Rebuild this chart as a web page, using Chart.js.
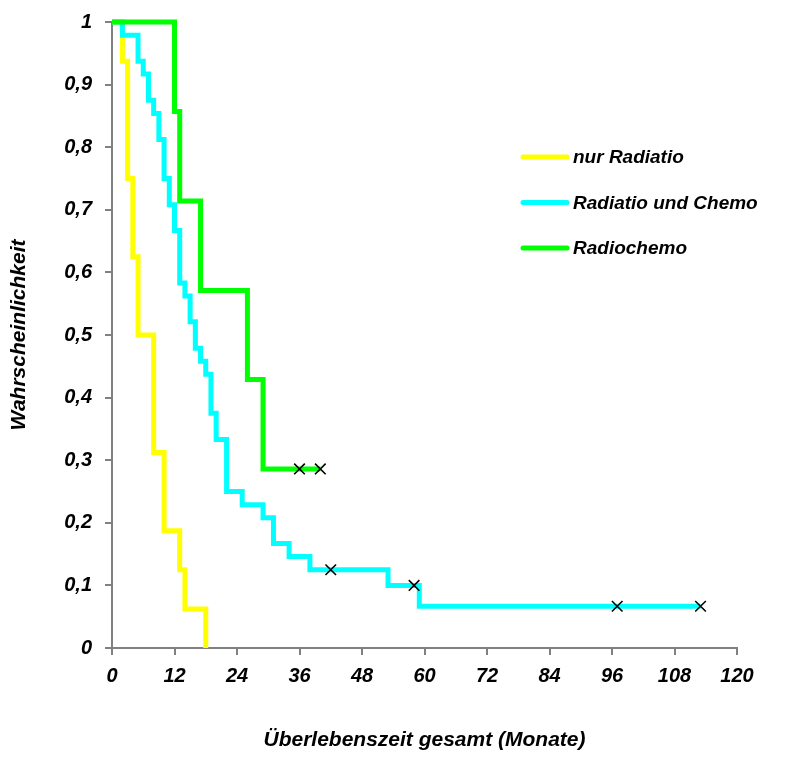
<!DOCTYPE html>
<html>
<head>
<meta charset="utf-8">
<script src="https://cdn.jsdelivr.net/npm/chart.js@4"></script>
<style>
html, body { margin:0; padding:0; background:#fff; }
#wrap { width:785px; height:758px; }
</style>
</head>
<body>
<div id="wrap"><canvas id="km" width="785" height="758"></canvas></div>
<script>
// ======================================================
// Data (Kaplan-Meier steps)
// ======================================================

const seriesNames = ["nur Radiatio", "Radiatio und Chemo", "Radiochemo"];
const seriesColors = ["#FFFF00", "#00FFFF", "#00FF00"];

const radTimes = [0, 2, 3, 4, 5, 8, 10, 13, 14, 18];
const radSurv = [1, 0.9375, 0.75, 0.625, 0.5, 0.3125, 0.1875, 0.125, 0.0625, 0];

const rcTimes = [0, 2, 5, 6, 7, 8, 9, 10, 11, 12, 13, 14, 15, 16, 17, 18, 19, 20, 22, 25, 29, 31, 34, 38, 53, 59, 113];
const rcSurv = [1, 0.979, 0.9375, 0.917, 0.875, 0.854, 0.8125, 0.75, 0.708, 0.667, 0.583, 0.5625, 0.521, 0.479, 0.458, 0.4375, 0.375, 0.333, 0.25, 0.229, 0.208, 0.167, 0.146, 0.125, 0.1, 0.0667, 0.0667];

const chemoTimes = [0, 12, 13, 17, 26, 29, 40];
const chemoSurv = [1, 0.857, 0.714, 0.571, 0.429, 0.286, 0.286];

// censored observations (x marks)
const censorTimes = [36, 40, 42, 58, 97, 113];
const censorSurv = [0.286, 0.286, 0.125, 0.1, 0.0667, 0.0667];

const xTicks = [0, 12, 24, 36, 48, 60, 72, 84, 96, 108, 120];
const yTicks = [0, 0.1, 0.2, 0.3, 0.4, 0.5, 0.6, 0.7, 0.8, 0.9, 1];

const xTitle = "Überlebenszeit gesamt (Monate)";
const yTitle = "Wahrscheinlichkeit";

// ======================================================
// Helpers
// ======================================================

const toPoints = (xs, ys) => xs.map((x, i) => ({ x: x, y: ys[i] }));

const tickFont = { family: "'Liberation Sans', Arial, sans-serif", size: 20, weight: "bold", style: "italic" };
const titleFont = { family: "'Liberation Sans', Arial, sans-serif", size: 21, weight: "bold", style: "italic" };

const stepLine = (idx, pts, order) => ({
    label: seriesNames[idx],
    data: pts,
    borderColor: seriesColors[idx],
    backgroundColor: seriesColors[idx],
    borderWidth: 5,
    stepped: "before",
    pointRadius: 0,
    borderJoinStyle: "miter",
    borderCapStyle: "butt",
    fill: false,
    clip: false,
    order: order
});

// ======================================================
// Legend inside the plot
// ======================================================

const innerLegend = {
    id: "innerLegend",
    afterDatasetsDraw(chart) {
        const ctx = chart.ctx;
        ctx.save();
        ctx.font = "italic bold 19px 'Liberation Sans', Arial, sans-serif";
        ctx.textBaseline = "middle";
        ctx.fillStyle = "#000";
        seriesNames.forEach((name, i) => {
            const y = 157 + i * 45.5;
            ctx.strokeStyle = seriesColors[i];
            ctx.lineWidth = 5;
            ctx.lineCap = "round";
            ctx.beginPath();
            ctx.moveTo(523, y);
            ctx.lineTo(567, y);
            ctx.stroke();
            ctx.fillText(name, 573, y + 1);
        });
        ctx.restore();
    }
};

// ======================================================
// Chart
// ======================================================

new Chart(
    document.getElementById("km"),
    {
        type: "line",
        data: {
            datasets: [
                stepLine(0, toPoints(radTimes, radSurv), 3),
                stepLine(1, toPoints(rcTimes, rcSurv), 2),
                stepLine(2, toPoints(chemoTimes, chemoSurv), 1),
                {
                    type: "scatter",
                    label: "zensiert",
                    data: toPoints(censorTimes, censorSurv),
                    pointStyle: "crossRot",
                    pointRadius: 7.5,
                    borderColor: "#000",
                    borderWidth: 1.6,
                    showLine: false,
                    clip: false,
                    order: 0
                }
            ]
        },
        options: {
            responsive: false,
            animation: false,
            layout: { padding: { top: 22, right: 48, bottom: 0, left: 0 } },
            plugins: {
                legend: { display: false },
                tooltip: { enabled: false }
            },
            scales: {
                x: {
                    type: "linear",
                    min: 0,
                    max: 120,
                    afterBuildTicks: (s) => { s.ticks = xTicks.map(v => ({ value: v })); },
                    afterFit: (s) => { s.height = 110; },
                    border: { color: "#808080", width: 2 },
                    grid: { drawOnChartArea: false, drawTicks: true, tickLength: 7, color: "#808080", lineWidth: 2 },
                    ticks: { color: "#000", font: tickFont, padding: 9, maxRotation: 0 },
                    title: { display: true, text: xTitle, color: "#000", font: titleFont, padding: { top: 0, bottom: 5 } }
                },
                y: {
                    min: 0,
                    max: 1,
                    afterBuildTicks: (s) => { s.ticks = yTicks.map(v => ({ value: v })); },
                    afterFit: (s) => { s.width = 112; s.paddingTop = 0; s.paddingBottom = 0; },
                    border: { color: "#808080", width: 2 },
                    grid: { drawOnChartArea: false, drawTicks: true, tickLength: 7, color: "#808080", lineWidth: 2 },
                    ticks: {
                        color: "#000",
                        font: tickFont,
                        padding: 13,
                        callback: (v) => String(Math.round(v * 10) / 10).replace(".", ",")
                    },
                    title: { display: true, text: yTitle, color: "#000", font: titleFont, padding: { top: 7, bottom: 0 } }
                }
            }
        },
        plugins: [innerLegend]
    }
);
</script>
</body>
</html>
